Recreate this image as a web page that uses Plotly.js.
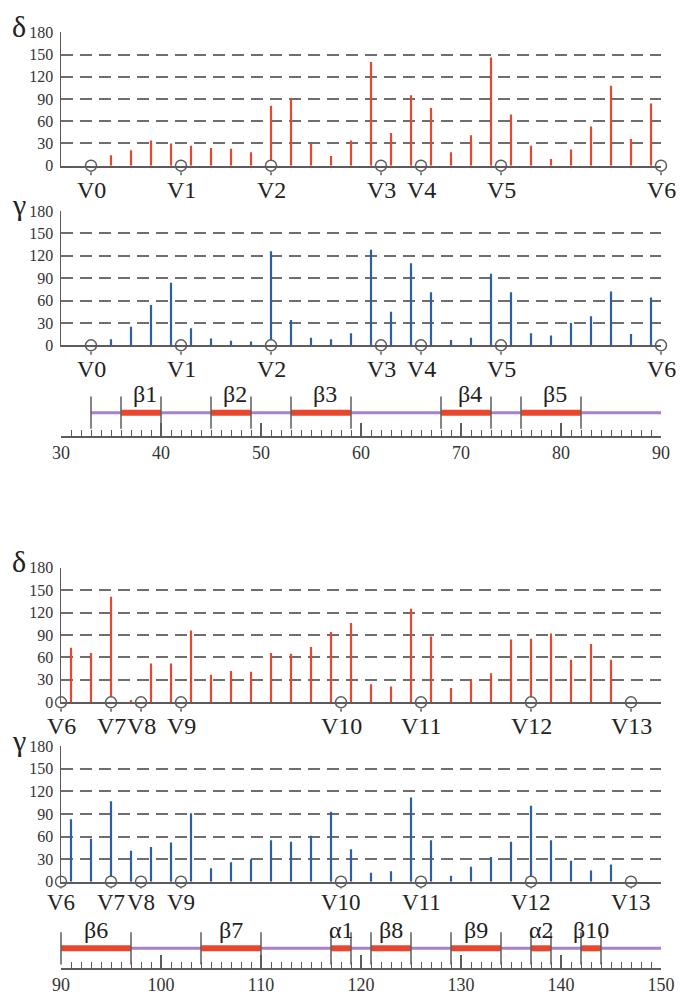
<!DOCTYPE html>
<html><head><meta charset="utf-8">
<script src="https://cdn.plot.ly/plotly-3.0.1.min.js"></script>
<style>html,body{margin:0;padding:0;background:#fff}#chart{width:680px;height:994px}</style>
</head><body><div id="chart"></div>
<script>
// ---------- data ----------
const resTop = [35,37,39,41,43,45,47,49,51,53,55,57,59,61,63,65,67,69,71,73,75,77,79,81,83,85,87,89];
const deltaTop = [14,21,34,30,27,24,23,18,81,90,30,13,34,140,44,95,78,18,41,146,69,27,9,22,53,108,36,84];
const gammaTop = [8,25,54,84,23,9,6,5,126,34,10,8,16,128,45,110,71,7,10,96,71,16,13,30,39,72,15,64];

const resBot = [91,93,95,97,99,101,103,105,107,109,111,113,115,117,119,121,123,125,127,129,131,133,135,137,139,141,143,145];
const deltaBot = [73,66,141,3,52,52,96,37,42,41,66,65,74,94,106,24,21,125,88,19,31,39,84,85,92,57,78,57];
const gammaBot = [83,57,107,41,46,52,91,18,26,30,55,53,61,93,43,12,14,112,55,8,20,33,53,101,55,28,15,23];

const vNamesTop = ['V0','V1','V2','V3','V4','V5','V6'];
const vResTop = [33,42,51,62,66,74,90];
const vNamesBot = ['V6','V7','V8','V9','V10','V11','V12','V13'];
const vResBot = [90,95,98,102,118,126,137,147];

const ssNamesTop = ['β1','β2','β3','β4','β5'];
const ssStartTop = [36,45,53,68,76];
const ssEndTop = [40,49,59,73,82];
const ssLineTop = [33,90];

const ssNamesBot = ['β6','β7','α1','β8','β9','α2','β10'];
const ssStartBot = [90,104,117,121,129,137,142];
const ssEndBot = [97,110,119,125,134,139,144];
const ssLineBot = [90,150];

const angleTicks = [0,30,60,90,120,150,180];
const rangeTop = [30,90];
const rangeBot = [90,150];

// ---------- styling / layout helpers ----------
const W=680,H=994,L=61,R=19,PW=W-L-R;
const fy = px => 1 - px/H;
const fx = px => (px-L)/PW;
const SERIF = 'Times New Roman, Liberation Serif, Tinos, DejaVu Serif, serif';
const RED='#e8472e', BLUE='#2b5fa8', PURPLE='#a681cc', GRAY='#5c5c5c';

const traces = [];
const annotations = [];
const layout = {
  width:W, height:H, margin:{l:L,r:R,t:0,b:0},
  paper_bgcolor:'#fff', plot_bgcolor:'#fff', showlegend:false,
  font:{family:SERIF, color:'#222'}
};

function spikePanel(n, range, topPx, botPx, res, vals, color, vRes, vNames, greek, vOff, vSize) {
  const xa = 'x'+(n===1?'':n), ya = 'y'+(n===1?'':n);
  const xk = 'xaxis'+(n===1?'':n), yk = 'yaxis'+(n===1?'':n);
  layout[xk] = {domain:[0,1], range:range, anchor:ya, showline:true, linecolor:GRAY, linewidth:2,
    showgrid:false, zeroline:false, ticks:'', showticklabels:false, fixedrange:true};
  layout[yk] = {domain:[fy(botPx), fy(topPx)], range:[0,180], anchor:xa, tickvals:angleTicks,
    showline:true, linecolor:GRAY, linewidth:1.5, showgrid:true, gridcolor:'#6e6e6e', gridwidth:2,
    griddash:'12px,7px', zeroline:false, ticks:'', ticklabelstandoff:3,
    tickfont:{family:SERIF, size:16, color:'#333'}, fixedrange:true};
  traces.push({type:'bar', x:res, y:vals, width:0.22, marker:{color:color, line:{width:0}},
    xaxis:xa, yaxis:ya, hoverinfo:'skip'});
  traces.push({type:'scatter', mode:'markers', x:vRes, y:vRes.map(()=>0), xaxis:xa, yaxis:ya,
    cliponaxis:false, marker:{symbol:'circle', size:11, color:'#fff', line:{color:GRAY, width:1.5}}, hoverinfo:'skip'});
  vRes.forEach((r,i)=>{
    annotations.push({xref:xa, yref:ya, x:r, y:0, text:vNames[i], showarrow:true, arrowhead:0,
      arrowwidth:1.5, arrowcolor:GRAY, ax:0, ay:vOff, standoff:6.5,
      font:{family:SERIF, size:vSize, color:'#222'}});
  });
  annotations.push({xref:'paper', yref:'paper', x:fx(19), y:fy(topPx-6), text:greek, showarrow:false,
    xanchor:'center', yanchor:'middle', font:{family:SERIF, size:30, color:'#222'}});
}

function structPanel(n, range, topPx, botPx, linePx, names, starts, ends, lineSE, labelShift, labelUp) {
  const xa = 'x'+n, ya = 'y'+n;
  const h = botPx-topPx, below = botPx-linePx;
  const a = 1, b = (h-below)/below;
  layout['xaxis'+n] = {domain:[0,1], range:range, anchor:ya, showline:true, linecolor:GRAY, linewidth:1.5,
    showgrid:false, zeroline:false, ticks:'inside', tick0:range[0], dtick:10, ticklen:13, tickwidth:1.5,
    tickcolor:GRAY, minor:{ticks:'inside', dtick:1, ticklen:6, tickwidth:1, tickcolor:GRAY},
    tickfont:{family:SERIF, size:18, color:'#333'}, fixedrange:true};
  layout['yaxis'+n] = {domain:[fy(botPx), fy(topPx)], range:[-a,b], anchor:xa, visible:false, fixedrange:true};
  traces.push({type:'scatter', mode:'lines', x:lineSE, y:[0,0], xaxis:xa, yaxis:ya,
    line:{color:PURPLE, width:3}, hoverinfo:'skip'});
  const sx=[], sy=[];
  starts.forEach((s,i)=>{ sx.push(s, ends[i], null); sy.push(0,0,null); });
  traces.push({type:'scatter', mode:'lines', x:sx, y:sy, xaxis:xa, yaxis:ya,
    line:{color:RED, width:6}, hoverinfo:'skip'});
  const bounds = [];
  if (starts[0] !== lineSE[0]) bounds.push(lineSE[0]);
  starts.forEach((s,i)=>{ bounds.push(s, ends[i]); });
  traces.push({type:'scatter', mode:'markers', x:bounds, y:bounds.map(()=>0), xaxis:xa, yaxis:ya,
    cliponaxis:false, marker:{symbol:'line-ns-open', size:23, color:GRAY, line:{color:GRAY, width:1.5}}, hoverinfo:'skip'});
  names.forEach((nm,i)=>{
    annotations.push({xref:xa, yref:ya, x:(starts[i]+ends[i])/2, y:0, text:nm, showarrow:false,
      yshift:labelUp, xshift:labelShift, font:{family:SERIF, size:24, color:'#222'}});
  });
}

spikePanel(1, rangeTop, 32.3, 165.7, resTop, deltaTop, RED, vResTop, vNamesTop, 'δ', 24, 24);
spikePanel(2, rangeTop, 211, 345.3, resTop, gammaTop, BLUE, vResTop, vNamesTop, 'γ', 24, 24);
structPanel(3, rangeTop, 380, 436, 412.7, ssNamesTop, ssStartTop, ssEndTop, ssLineTop, 4, 19);
spikePanel(4, rangeBot, 567.7, 702.3, resBot, deltaBot, RED, vResBot, vNamesBot, 'δ', 24, 24);
spikePanel(5, rangeBot, 746.3, 881.7, resBot, gammaBot, BLUE, vResBot, vNamesBot, 'γ', 21, 23);
structPanel(6, rangeBot, 912, 968, 948.3, ssNamesBot, ssStartBot, ssEndBot, ssLineBot, 0, 18.5);

layout.annotations = annotations;
Plotly.newPlot('chart', traces, layout, {staticPlot:true, displayModeBar:false});
</script>
</body></html>
